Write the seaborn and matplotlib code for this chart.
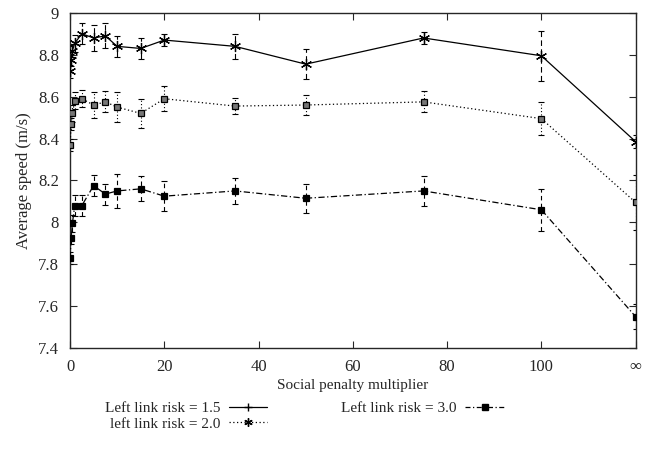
import numpy as np
import pandas as pd
import matplotlib
matplotlib.use("Agg")
import matplotlib.pyplot as plt
from matplotlib.lines import Line2D
import seaborn as sns

# x positions; the last one stands for "infinity"
multiplier = [0, 0.25, 0.5, 1, 2.5, 5, 7.5, 10, 15, 20, 35, 50, 75, 100, 120]

speed_15 = [8.72, 8.775, 8.82, 8.855, 8.90, 8.88, 8.89, 8.84, 8.83, 8.87, 8.84, 8.755, 8.88, 8.795, 8.385]
err_15 = [0.03, 0.03, 0.03, 0.04, 0.05, 0.06, 0.06, 0.05, 0.05, 0.03, 0.06, 0.07, 0.03, 0.12, 0.03]

speed_20 = [8.37, 8.47, 8.52, 8.58, 8.59, 8.56, 8.575, 8.55, 8.52, 8.59, 8.555, 8.56, 8.575, 8.495, 8.095]
err_20 = [0.03, 0.03, 0.04, 0.04, 0.04, 0.06, 0.05, 0.07, 0.07, 0.06, 0.04, 0.05, 0.05, 0.08, 0.13]

speed_30 = [7.83, 7.925, 7.995, 8.08, 8.08, 8.175, 8.135, 8.15, 8.16, 8.125, 8.15, 8.115, 8.15, 8.06, 7.55]
err_30 = [0.03, 0.03, 0.04, 0.05, 0.05, 0.05, 0.05, 0.08, 0.06, 0.07, 0.06, 0.07, 0.07, 0.10, 0.06]

x_ticks = [0, 20, 40, 60, 80, 100, 120]
x_tick_labels = ["0", "20", "40", "60", "80", "100", "\u221e"]
y_ticks = [7.4, 7.6, 7.8, 8.0, 8.2, 8.4, 8.6, 8.8, 9.0]
y_tick_labels = ["7.4", "7.6", "7.8", "8", "8.2", "8.4", "8.6", "8.8", "9"]

sns.set_style("ticks")
plt.rcParams["font.family"] = ["Liberation Serif", "DejaVu Serif"]
plt.rcParams["xtick.direction"] = "in"
plt.rcParams["ytick.direction"] = "in"

fig = plt.figure(figsize=(6.67, 4.58), dpi=100)
ax = fig.add_axes([0.105, 0.240, 0.848, 0.732])

asterisk = (6, 2, 0)
series = [
    (speed_15, err_15, "-", asterisk, 8, "black", (5, 3)),
    (speed_20, err_20, (0, (1, 2)), "s", 4.5, "#777777", (1, 2)),
    (speed_30, err_30, (0, (5, 2, 1, 2)), "s", 5, "black", (4, 3)),
]

for ys, es, ls, mk, ms, mfc, edash in series:
    df = pd.DataFrame({"x": multiplier, "y": ys})
    eb = ax.errorbar(multiplier, ys, yerr=es, fmt="none", ecolor="black",
                     elinewidth=0.8, capsize=2.5, capthick=0.8, zorder=2)
    eb[2][0].set_linestyle((0, edash))
    sns.lineplot(data=df, x="x", y="y", ax=ax, color="black", linewidth=0.9,
                 linestyle=ls, marker=mk, markersize=ms, markerfacecolor=mfc,
                 markeredgecolor="black", markeredgewidth=0.9, zorder=3)

ax.set_xlim(0, 120)
ax.set_ylim(7.4, 9.0)
ax.set_xticks(x_ticks)
ax.set_xticklabels(x_tick_labels)
ax.set_yticks(y_ticks)
ax.set_yticklabels(y_tick_labels)
ax.tick_params(axis="both", labelsize=12, length=5, width=0.8, top=True, right=True, pad=8)
for s in ax.spines.values():
    s.set_linewidth(1.0)
    s.set_visible(True)
ax.set_xlabel("Social penalty multiplier", fontsize=11, labelpad=3)
ax.set_ylabel("Average speed (m/s)", fontsize=12, labelpad=4)

handles = [
    Line2D([], [], color="black", lw=0.9, ls="-", marker="+", markersize=6),
    Line2D([], [], color="black", lw=0.9, ls=(0, (1, 2)), marker=asterisk, markersize=6),
    Line2D([], [], color="black", lw=0.9, ls=(0, (4, 2, 1, 2)), marker="s", markersize=4),
]
labels = ["Left link risk = 1.5", "left link risk = 2.0", "Left link risk = 3.0"]
leg = fig.legend(handles, labels, ncol=2, loc="lower center", bbox_to_anchor=(0.456, 0.03),
                 frameon=False, markerfirst=False, fontsize=11, handlelength=2.5,
                 columnspacing=4.8, labelspacing=0.1, handletextpad=0.6,
                 alignment="right")

fig.savefig("out.png", dpi=100)
